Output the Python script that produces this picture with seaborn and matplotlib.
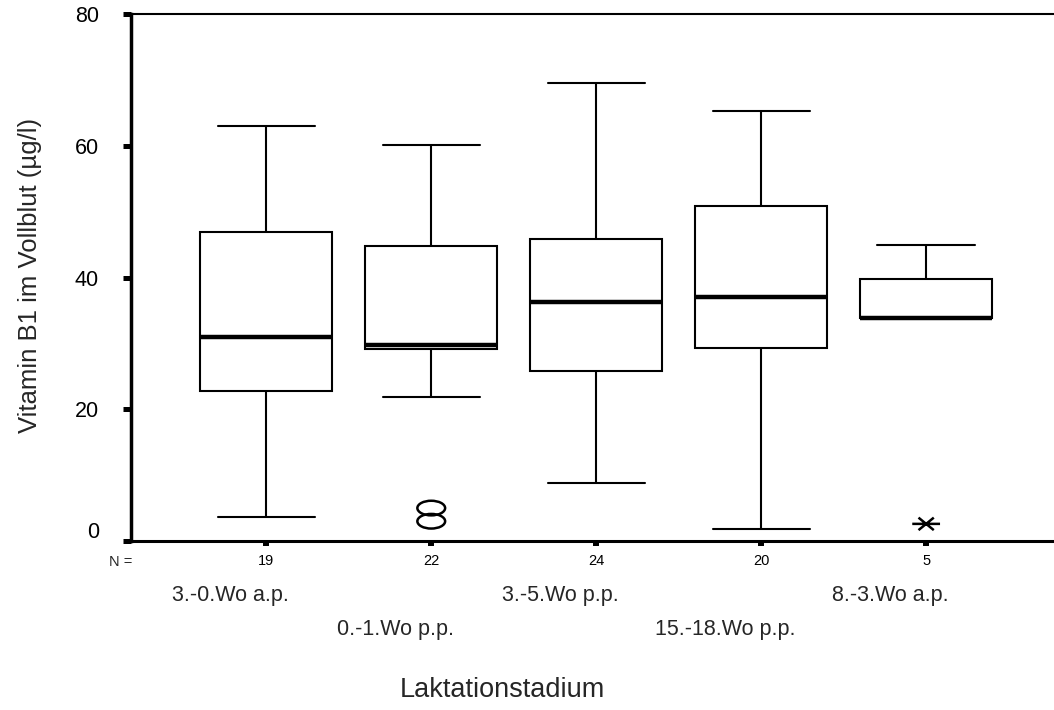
import numpy as np
import pandas as pd
import matplotlib
matplotlib.use("Agg")
import matplotlib.pyplot as plt
from matplotlib.path import Path
from matplotlib.transforms import ScaledTranslation
import seaborn as sns

# ---- data (five-number summaries per stage) ----
categories = ["3.-0.Wo a.p.", "0.-1.Wo p.p.", "3.-5.Wo p.p.", "15.-18.Wo p.p.", "8.-3.Wo a.p."]
n_counts = [19, 22, 24, 20, 5]
whisker_low = [3.7, 21.9, 8.8, 1.8, 33.9]
q1 = [22.8, 29.1, 25.8, 29.3, 33.9]
median = [31.0, 29.8, 36.3, 37.0, 33.9]
q3 = [46.9, 44.8, 45.9, 50.9, 39.8]
whisker_high = [63.0, 60.1, 69.6, 65.2, 44.9]
outlier_stage = ["0.-1.Wo p.p.", "0.-1.Wo p.p."]
outlier_values = [5.0, 3.0]
extreme_stage = ["8.-3.Wo a.p."]
extreme_values = [2.6]
y_ticks = [0, 20, 40, 60, 80]

sns.set_theme(style="white")
plt.rcParams["font.family"] = ["Liberation Sans", "DejaVu Sans"]

rows = []
for cat, lo, a, m, b, hi in zip(categories, whisker_low, q1, median, q3, whisker_high):
    for v in (lo, a, m, b, hi):
        rows.append({"stage": cat, "value": v})
box_df = pd.DataFrame(rows)
out_df = pd.DataFrame({"stage": outlier_stage, "value": outlier_values})
ext_df = pd.DataFrame({"stage": extreme_stage, "value": extreme_values})

W, H = 1054, 710
fig = plt.figure(figsize=(W / 100, H / 100), dpi=100)
ax = fig.add_axes([131 / W, 1 - 541 / H, 1 - 131 / W, (541 - 14) / H])

sns.boxplot(data=box_df, x="stage", y="value", order=categories, whis=(0, 100),
            width=0.8, color="white", linecolor="black", linewidth=1.5,
            medianprops=dict(linewidth=3.2, color="black"),
            capwidths=0.59, ax=ax)

# custom markers: flat ellipse for outliers, flat asterisk for extremes
circ = Path.unit_circle()
ellipse = Path(circ.vertices * np.array([0.95, 0.5]), circ.codes)
star = Path([(-1, 0), (1, 0), (-0.55, -0.45), (0.55, 0.45), (-0.55, 0.45), (0.55, -0.45)],
            [Path.MOVETO, Path.LINETO, Path.MOVETO, Path.LINETO, Path.MOVETO, Path.LINETO])

n_before = len(ax.collections)
sns.stripplot(data=out_df, x="stage", y="value", order=categories, jitter=False,
              marker=ellipse, size=20, linewidth=1.4, ax=ax)
sns.stripplot(data=ext_df, x="stage", y="value", order=categories, jitter=False,
              marker=star, size=20, linewidth=1.5, ax=ax)
for coll in ax.collections[n_before:]:
    coll.set_facecolor("none")
    coll.set_edgecolor("black")
    coll.set_linewidth(1.8)

ax.set_xlim(-0.82, 4.775)
ax.set_ylim(0, 80)
ax.set_xticks(range(len(categories)))
ax.set_xticklabels([str(n) for n in n_counts])
ax.set_yticks(y_ticks)
ax.set_yticklabels([str(t) for t in y_ticks])
ax.set_xlabel("")
ax.set_ylabel("")

ax.tick_params(axis="x", direction="out", length=3.6, width=4.3, pad=6,
               labelsize=10.5, color="black", labelcolor="black", bottom=True)
ax.tick_params(axis="y", direction="out", length=6, width=3.6, pad=17,
               labelsize=15.5, color="black", labelcolor="black", left=True)

for side in ("left", "bottom", "top"):
    ax.spines[side].set_visible(True)
    ax.spines[side].set_color("black")
ax.spines["left"].set_linewidth(2.5)
ax.spines["bottom"].set_linewidth(2.2)
ax.spines["top"].set_linewidth(1.5)
ax.spines["right"].set_visible(False)

# raise the "0" label like the reference
lab0 = ax.get_yticklabels()[0]
lab0.set_transform(lab0.get_transform() + ScaledTranslation(0, 11 / 100, fig.dpi_scale_trans))

# N = marker
ax.annotate("N =", xy=(0, 0), xycoords="axes fraction", xytext=(-7.2, -15),
            textcoords="offset points", ha="center", va="center", fontsize=10.5)

# staggered category labels
for i, cat in enumerate(categories):
    dy = -39 if i % 2 == 0 else -64
    ax.annotate(cat, xy=(i, 0), xycoords=("data", "axes fraction"), xytext=(-26, dy),
                textcoords="offset points", ha="center", va="center", fontsize=15.5)

fig.text(30 / W, 1 - 275 / H, "Vitamin B1 im Vollblut (µg/l)", rotation=90,
         ha="center", va="center", fontsize=18.5)
fig.text(502 / W, 1 - 690 / H, "Laktationstadium", ha="center", va="center", fontsize=19.5)

fig.savefig("out.png", dpi=100)
